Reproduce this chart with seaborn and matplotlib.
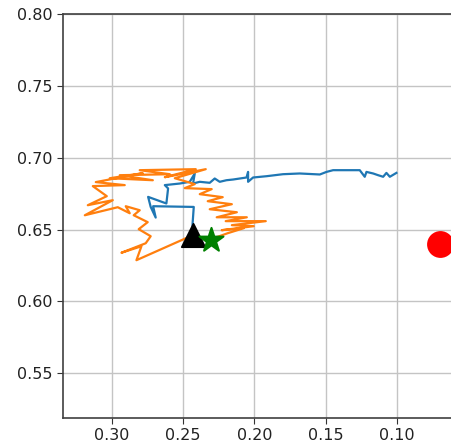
import matplotlib
matplotlib.use("Agg")
import matplotlib.pyplot as plt
import seaborn as sns
import numpy as np

# Trajectory of the first run (blue)
run_a_x = [0.2427, 0.2434, 0.2425, 0.2710, 0.2692, 0.2727, 0.2745, 0.2617, 0.2605, 0.2628,
           0.2523, 0.2453, 0.2418, 0.2430, 0.2383, 0.2313, 0.2278, 0.2243, 0.2196, 0.2149,
           0.2055, 0.2044, 0.2044, 0.2009, 0.1915, 0.1799, 0.1682, 0.1541, 0.1494, 0.1448,
           0.1261, 0.1226, 0.1214, 0.1167, 0.1132, 0.1097, 0.1074, 0.1050, 0.1004]
run_a_y = [0.6464, 0.6531, 0.6658, 0.6663, 0.6584, 0.6658, 0.6728, 0.6682, 0.6787, 0.6810,
           0.6821, 0.6833, 0.6891, 0.6821, 0.6833, 0.6826, 0.6856, 0.6833, 0.6844, 0.6849,
           0.6863, 0.6902, 0.6833, 0.6863, 0.6872, 0.6886, 0.6891, 0.6884, 0.6902, 0.6914,
           0.6914, 0.6868, 0.6902, 0.6891, 0.6879, 0.6868, 0.6895, 0.6868, 0.6895]

# Trajectory of the second run (orange)
run_b_x = [0.2426, 0.2827, 0.2792, 0.2932, 0.2762, 0.2727, 0.2811, 0.2748, 0.2846, 0.2804,
           0.2902, 0.2874, 0.2958, 0.3189, 0.2993, 0.3168, 0.3035, 0.3133, 0.2909, 0.3112,
           0.2783, 0.3014, 0.2712, 0.2944, 0.2593, 0.2804, 0.2411, 0.2628, 0.2341, 0.2558,
           0.2418, 0.2488, 0.2299, 0.2383, 0.2222, 0.2327, 0.2158, 0.2313, 0.2123, 0.2264,
           0.2053, 0.2201, 0.1920, 0.2158, 0.2004, 0.2229, 0.2074, 0.2187, 0.2285]
run_b_y = [0.6464, 0.6287, 0.6384, 0.6339, 0.6405, 0.6454, 0.6503, 0.6552, 0.6600, 0.6635,
           0.6663, 0.6614, 0.6656, 0.6600, 0.6705, 0.6670, 0.6733, 0.6803, 0.6810, 0.6831,
           0.6893, 0.6858, 0.6844, 0.6879, 0.6886, 0.6914, 0.6921, 0.6865, 0.6921, 0.6858,
           0.6817, 0.6789, 0.6782, 0.6747, 0.6726, 0.6698, 0.6677, 0.6642, 0.6621, 0.6586,
           0.6586, 0.6559, 0.6559, 0.6531, 0.6524, 0.6496, 0.6510, 0.6475, 0.6440]

# Reference points
start_pt = (0.2427, 0.6464)
best_pt = (0.2301, 0.6426)
target_pt = (0.0701, 0.6398)

x_ticks = [0.30, 0.25, 0.20, 0.15, 0.10]
y_ticks = [0.55, 0.60, 0.65, 0.70, 0.75, 0.80]

plt.rcParams["font.size"] = 11.5

fig = plt.figure(figsize=(4.52, 4.46), dpi=100)
ax = fig.add_axes([0.140, 0.0635, 0.896, 0.9045])

sns.lineplot(x=run_a_x, y=run_a_y, sort=False, estimator=None, color="#1f77b4",
             linewidth=1.6, ax=ax)
sns.lineplot(x=run_b_x, y=run_b_y, sort=False, estimator=None, color="#ff7f0e",
             linewidth=1.6, ax=ax)

sns.scatterplot(x=[start_pt[0]], y=[start_pt[1]], marker="^", s=280, color="black",
                edgecolor="black", ax=ax, zorder=5)
sns.scatterplot(x=[best_pt[0]], y=[best_pt[1]], marker="*", s=330, color="green",
                edgecolor="green", ax=ax, zorder=6)
sns.scatterplot(x=[target_pt[0]], y=[target_pt[1]], marker="o", s=320, color="red",
                edgecolor="red", ax=ax, zorder=6)

ax.set_xlim(0.334, 0.050)
ax.set_ylim(0.519, 0.800)
ax.set_xticks(x_ticks)
ax.set_yticks(y_ticks)
ax.set_xticklabels([f"{v:.2f}" for v in x_ticks])
ax.set_yticklabels([f"{v:.2f}" for v in y_ticks])
ax.grid(True, color="#c4c4c4", linewidth=1.0)
ax.set_axisbelow(True)
ax.tick_params(length=4, color="#333333", labelcolor="#222222")
for s in ax.spines.values():
    s.set_color("#404040")
    s.set_linewidth(1.2)

fig.savefig("out.png", dpi=100)
